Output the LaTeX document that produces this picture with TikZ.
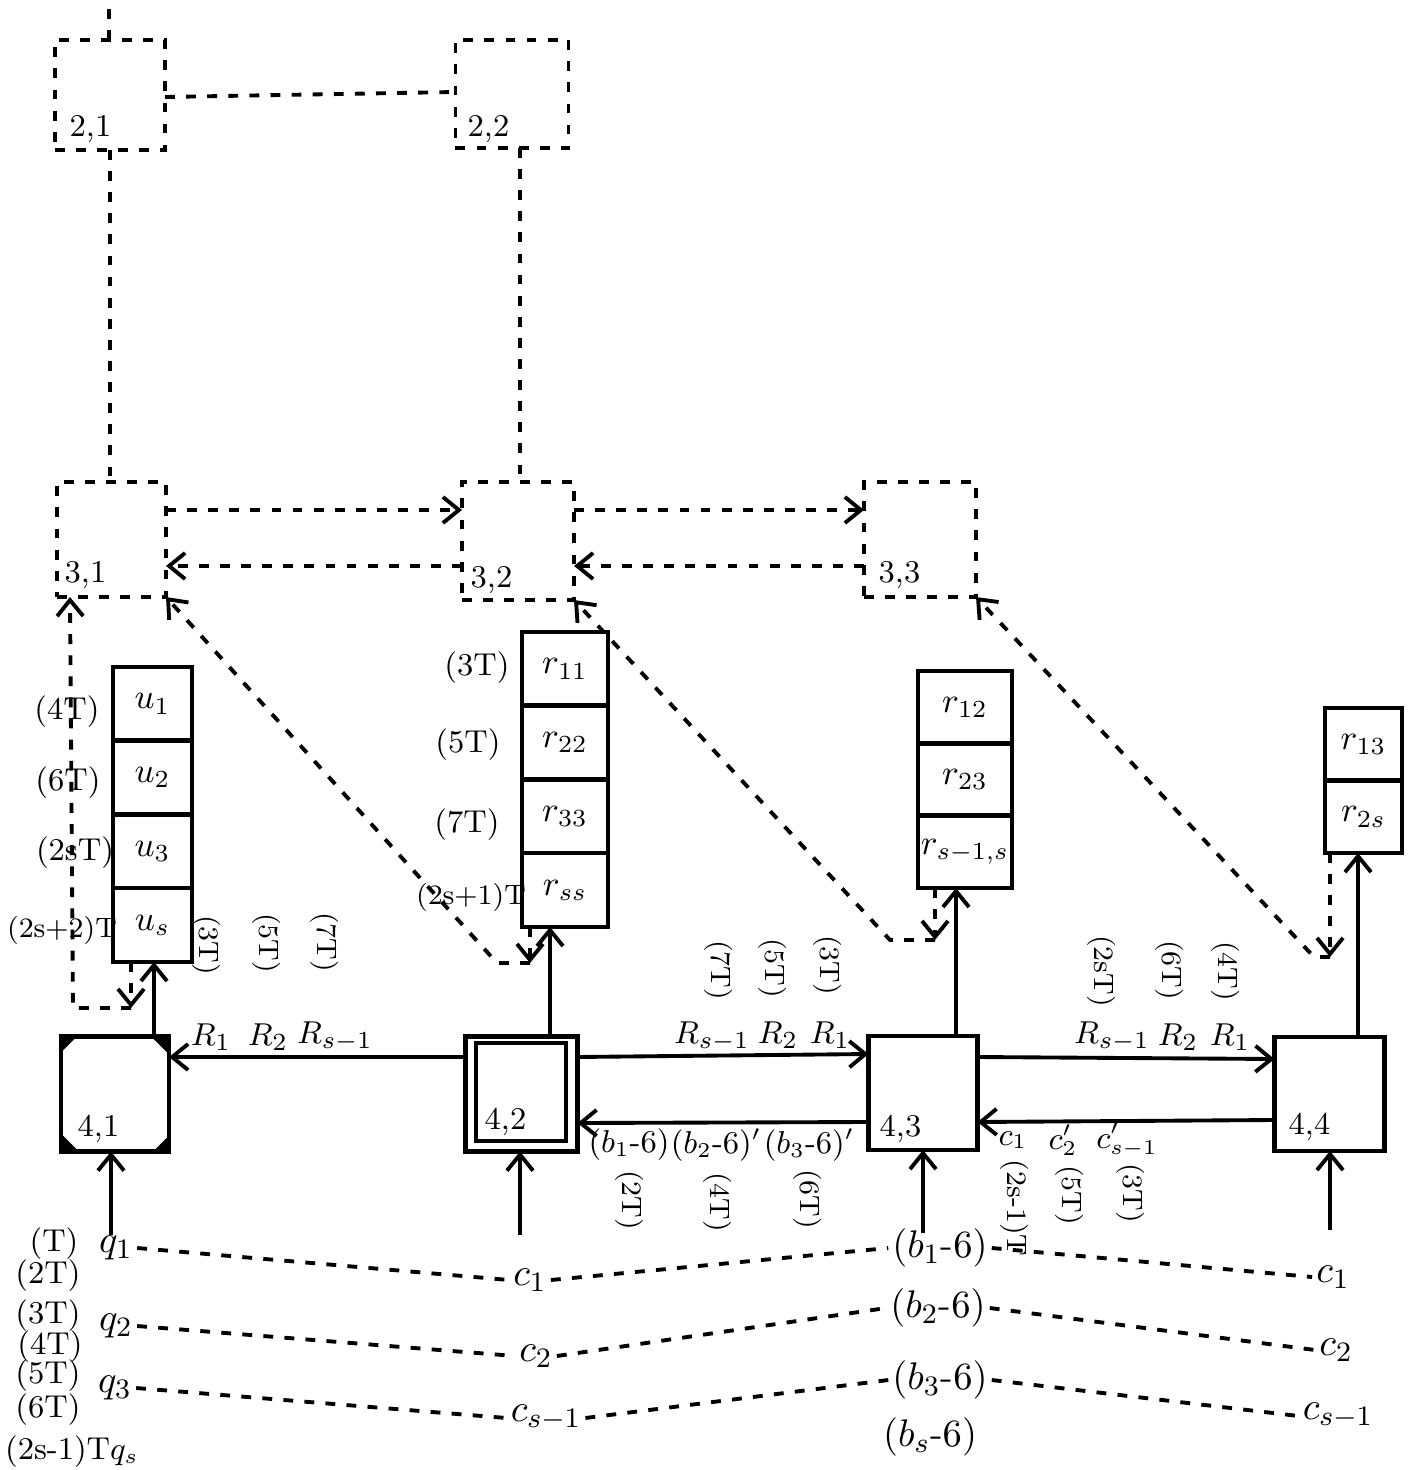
\documentclass[tikz,border=0pt]{standalone}
\usetikzlibrary{arrows.meta}
\begin{document}
\begin{tikzpicture}[x=0.01cm,y=-0.01cm]
\tikzset{
  arr/.style={line width=1.1pt,-{Straight Barb[length=1.6mm,width=2.6mm]}},
  dsh/.style={line width=1.1pt,dash pattern=on 2.8pt off 3.2pt},
  darr/.style={dsh,-{Straight Barb[length=1.6mm,width=2.6mm]}},
  dbox/.style={draw,dsh,inner sep=0pt,outer sep=0pt},
  sbox/.style={draw,line width=1.3pt,inner sep=0pt,outer sep=0pt},
  cell/.style={sbox,font=\fontsize{10}{12}\selectfont},
  lbl/.style={inner sep=1pt,font=\fontsize{11}{13}\selectfont},
  rlab/.style={inner sep=1pt,font=\fontsize{9.5}{11}\selectfont},
  tlbl/.style={inner sep=1pt,font=\fontsize{9}{11}\selectfont},
  slbl/.style={inner sep=0pt,font=\footnotesize},
  rlbl/.style={inner sep=1pt,font=\footnotesize,rotate=-90},
  blbl/.style={inner sep=0pt,font=\small,anchor=south west},
}
\useasboundingbox (0,0) rectangle (1416,1470);

% ---- level 2 (dashed)
\node[dbox,minimum width=1.10cm,minimum height=1.10cm] (b21) at (110,95) {};
\node[dbox,minimum width=1.13cm,minimum height=1.08cm] (b22) at (512,94) {};
\node[blbl] (l21) at (69,143) {2,1};
\node[blbl] (l22) at (467,143) {2,2};

% ---- level 3 (dashed)
\node[dbox,minimum width=1.09cm,minimum height=1.15cm] (b31) at (111.5,539.5) {};
\node[dbox,minimum width=1.12cm,minimum height=1.18cm] (b32) at (518,541) {};
\node[dbox,minimum width=1.12cm,minimum height=1.15cm] (b33) at (920,539.5) {};
\node[blbl] (l31) at (64,589) {3,1};
\node[blbl] (l32) at (470,594) {3,2};
\node[blbl] (l33) at (878,589) {3,3};

% ---- level 4 (solid)
\node[sbox,minimum width=1.08cm,minimum height=1.15cm] (b41) at (115,1094) {};
\fill (b41.north west) -- ++(16,0) -- ++(-16,16) -- cycle;
\fill (b41.north east) -- ++(-18,0) -- ++(18,18) -- cycle;
\fill (b41.south west) -- ++(18,0) -- ++(-18,-18) -- cycle;
\fill (b41.south east) -- ++(-16,0) -- ++(16,-16) -- cycle;
\node[sbox,minimum width=1.12cm,minimum height=1.15cm] (b42) at (521.5,1094) {};
\node[sbox,minimum width=0.90cm,minimum height=0.98cm] (b42i) at (521,1092) {};
\node[sbox,minimum width=1.09cm,minimum height=1.14cm] (b43) at (923,1093) {};
\node[sbox,minimum width=1.10cm,minimum height=1.14cm] (b44) at (1329.5,1094) {};
\node[blbl] (l41) at (77,1143) {4,1};
\node[blbl] (l42) at (484,1136) {4,2};
\node[blbl] (l43) at (879,1143) {4,3};
\node[blbl] (l44) at (1288,1141) {4,4};

% ---- stacks
\node[cell,minimum width=0.79cm,minimum height=0.7375cm] (u1) at (152.5,703.9) {$u_1$};
\node[cell,minimum width=0.79cm,minimum height=0.7375cm] (u2) at (152.5,777.6) {$u_2$};
\node[cell,minimum width=0.79cm,minimum height=0.7375cm] (u3) at (152.5,851.3) {$u_3$};
\node[cell,minimum width=0.79cm,minimum height=0.7375cm] (u4) at (152.5,925.1) {$u_s$};

\node[cell,minimum width=0.86cm,minimum height=0.7375cm] (r11) at (565,668.9) {$r_{11}$};
\node[cell,minimum width=0.86cm,minimum height=0.7375cm] (r12) at (565,742.6) {$r_{22}$};
\node[cell,minimum width=0.86cm,minimum height=0.7375cm] (r13) at (565,816.3) {$r_{33}$};
\node[cell,minimum width=0.86cm,minimum height=0.7375cm] (r14) at (565,890.1) {$r_{ss}$};

\node[cell,minimum width=0.94cm,minimum height=0.723cm] (r21) at (965,707.2) {$r_{12}$};
\node[cell,minimum width=0.94cm,minimum height=0.723cm] (r22) at (965,779.5) {$r_{23}$};
\node[cell,minimum width=0.94cm,minimum height=0.723cm] (r23) at (965,851.8) {$r_{s-1,s}$};

\node[cell,minimum width=0.77cm,minimum height=0.725cm] (r31) at (1363.5,744.3) {$r_{13}$};
\node[cell,minimum width=0.77cm,minimum height=0.725cm] (r32) at (1363.5,816.8) {$r_{2s}$};

% time labels beside stacks
\node[tlbl] (tu1) at (67,712) {(4T)};
\node[tlbl] (tu2) at (68,783) {(6T)};
\node[tlbl] (tu3) at (75,853) {(2sT)};
\node[slbl] (tu4) at (62,930) {(2s+2)T};
\node[tlbl] (tr1) at (477,668) {(3T)};
\node[tlbl] (tr2) at (468,745) {(5T)};
\node[tlbl] (tr3) at (467,825) {(7T)};
\node[slbl] (tr4) at (471,897) {(2s+1)T};

% ---- dashed links, levels 2 and 3
\coordinate (top) at (109,8);
\draw[dsh] (top |- b21.north) -- (top);
\draw[dsh] (b21.east |- 0,97) -- (b22.west |- 0,92);
\draw[dsh] (b21.south) -- (b21.south |- b31.north);
\coordinate (x22) at (520,0);
\draw[dsh] (x22 |- b22.south) -- (x22 |- b32.north);

\draw[darr] (b31.east |- 0,510) -- (b32.west |- 0,510);
\draw[darr] (b32.west |- 0,566) -- (b31.east |- 0,566);
\draw[darr] (b32.east |- 0,510) -- (b33.west |- 0,510);
\draw[darr] (b33.west |- 0,566) -- (b32.east |- 0,566);

% ---- dashed returns from stacks
\coordinate (du) at (131,1008);
\coordinate (du2) at (73,1008);
\coordinate (d31) at (70,0);
\draw[darr] (du |- u4.south) -- (du);
\draw[darr] (du) -- (du2) -- (d31 |- b31.south);

\coordinate (dr1) at (530,963);
\coordinate (dr1b) at (497,963);
\draw[darr] (dr1 |- r14.south) -- (dr1);
\draw[darr] (dr1) -- (dr1b) -- (b31.south east);

\coordinate (dr2) at (935,940);
\coordinate (dr2b) at (890,940);
\draw[darr] (dr2 |- r23.south) -- (dr2);
\draw[darr] (dr2) -- (dr2b) -- (b32.south east);

\coordinate (dr3) at (1330,957);
\coordinate (dr3b) at (1314,957);
\draw[darr] (dr3 |- r32.south) -- (dr3);
\draw[darr] (dr3) -- (dr3b) -- (b33.south east);

% ---- solid arrows up to stacks
\coordinate (xa1) at (154,0);
\coordinate (xa2) at (550,0);
\coordinate (xa3) at (956,0);
\coordinate (xa4) at (1358,0);
\draw[arr] (xa1 |- b41.north) -- (xa1 |- u4.south);
\draw[arr] (xa2 |- b42.north) -- (xa2 |- r14.south);
\draw[arr] (xa3 |- b43.north) -- (xa3 |- r23.south);
\draw[arr] (xa4 |- b44.north) -- (xa4 |- r32.south);

% ---- level 4 arrows
\draw[arr] (b42.west |- 0,1057) -- (b41.east |- 0,1057);
\draw[arr] (b42.east |- 0,1057) -- (b43.west |- 0,1054);
\draw[arr] (b43.west |- 0,1122) -- (b42.east |- 0,1123);
\draw[arr] (b43.east |- 0,1057) -- (b44.west |- 0,1059);
\draw[arr] (b44.west |- 0,1120) -- (b43.east |- 0,1122);

\node[rlab] (R11) at (211,1037) {$R_1$};
\node[rlab] (R12) at (268,1037) {$R_2$};
\node[rlab] (R13) at (335,1037) {$R_{s-1}$};
\node[rlab] (R21) at (712,1037) {$R_{s-1}$};
\node[rlab] (R22) at (778,1035) {$R_2$};
\node[rlab] (R23) at (830,1035) {$R_1$};
\node[rlab] (R31) at (1112,1037) {$R_{s-1}$};
\node[rlab] (R32) at (1178,1037) {$R_2$};
\node[rlab] (R33) at (1230,1037) {$R_1$};

\node[rlbl] (v11) at (207,945) {(3T)};
\node[rlbl] (v12) at (267,943) {(5T)};
\node[rlbl] (v13) at (325,942) {(7T)};
\node[rlbl] (v21) at (719,970) {(7T)};
\node[rlbl] (v22) at (773,968) {(5T)};
\node[rlbl] (v23) at (828,965) {(3T)};
\node[rlbl] (v31) at (1102,971) {(2sT)};
\node[rlbl] (v32) at (1170,970) {(6T)};
\node[rlbl] (v33) at (1226,971) {(4T)};

\node[tlbl] (bl1) at (629,1145) {$(b_1\mbox{-}6)$};
\node[tlbl] (bl2) at (716,1145) {$(b_2\mbox{-}6)'$};
\node[tlbl] (bl3) at (809,1145) {$(b_3\mbox{-}6)'$};
\node[rlbl] (w21) at (630,1200) {(2T)};
\node[rlbl] (w22) at (718,1202) {(4T)};
\node[rlbl] (w23) at (808,1199) {(6T)};

\node[tlbl] (cl1) at (1013,1140) {$c_1$};
\node[tlbl] (cl2) at (1063,1140) {$c'_2$};
\node[tlbl] (cl3) at (1127,1140) {$c'_{s-1}$};
\node[rlbl] (w31) at (1015,1208) {(2s-1)T};
\node[rlbl] (w32) at (1070,1195) {(5T)};
\node[rlbl] (w33) at (1131,1193) {(3T)};

% ---- inputs from below
\coordinate (in1) at (111,1235);
\coordinate (in2) at (520,1235);
\coordinate (in3) at (923,1233);
\coordinate (in4) at (1330,1230);
\draw[arr] (in1) -- (in1 |- b41.south);
\draw[arr] (in2) -- (in2 |- b42.south);
\draw[arr] (in3) -- (in3 |- b43.south);
\draw[arr] (in4) -- (in4 |- b44.south);

% ---- bottom rows
\node[tlbl] (T1) at (54,1244) {(T)};
\node[tlbl] (T2) at (48,1276) {(2T)};
\node[tlbl] (T3) at (48,1316) {(3T)};
\node[tlbl] (T4) at (50,1347) {(4T)};
\node[tlbl] (T5) at (48,1376) {(5T)};
\node[tlbl] (T6) at (48,1410) {(6T)};
\node[lbl] (q1) at (116,1248) {$q_1$};
\node[lbl] (q2) at (116,1326) {$q_2$};
\node[lbl] (q3) at (115,1388) {$q_3$};
\node[tlbl] (qs) at (72,1452) {(2s-1)T$q_s$};

\node[lbl] (c1m) at (530,1280) {$c_1$};
\node[lbl] (c2m) at (536,1356) {$c_2$};
\node[lbl] (c3m) at (546,1418) {$c_{s-1}$};

\node[lbl] (bb1) at (940,1248) {$(b_1\mbox{-}6)$};
\node[lbl] (bb2) at (938,1308) {$(b_2\mbox{-}6)$};
\node[lbl] (bb3) at (940,1380) {$(b_3\mbox{-}6)$};
\node[lbl] (bbs) at (930,1437) {$(b_s\mbox{-}6)$};

\node[lbl] (c1r) at (1333,1277) {$c_1$};
\node[lbl] (c2r) at (1336,1350) {$c_2$};
\node[lbl] (c3r) at (1338,1416) {$c_{s-1}$};

\draw[dsh] (q1.east) -- (c1m.west);
\draw[dsh] (c1m.east) -- (bb1.west);
\draw[dsh] (bb1.east) -- (c1r.west);
\draw[dsh] (q2.east) -- (c2m.west);
\draw[dsh] (c2m.east) -- (bb2.west);
\draw[dsh] (bb2.east) -- (c2r.west);
\draw[dsh] (q3.east) -- (c3m.west);
\draw[dsh] (c3m.east) -- (bb3.west);
\draw[dsh] (bb3.east) -- (c3r.west);
\end{tikzpicture}
\end{document}
